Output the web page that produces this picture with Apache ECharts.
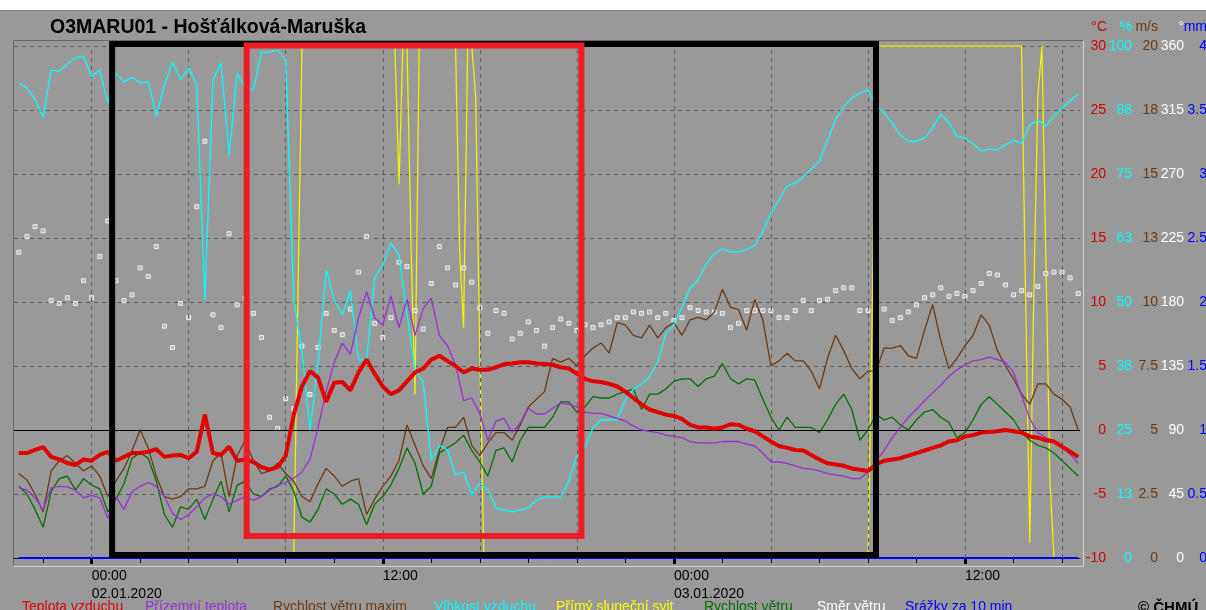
<!DOCTYPE html>
<html><head><meta charset="utf-8">
<script src="https://cdn.jsdelivr.net/npm/echarts@6/dist/echarts.min.js"></script>
<style>html,body{margin:0;padding:0;background:#999999;}#c{width:1206px;height:610px;}</style>
</head><body><div id="c"></div>
<script>
const chartTitle = 'O3MARU01 - Hošťálková-Maruška';
// sampling grid: hours relative to 02.01.2020 00:00, every 20 min from 21:00 01.01.
const START_H = -3, STEP_H = 1 / 3;

// Teplota vzduchu (°C)
const temp = [
 -1.8,-1.8,-1.56,-1.33,-2.1,-2.3,-2.58,-2.73,-2.3,-2.4,
 -1.95,-1.7,-2.4,-2.1,-1.8,-1.8,-1.7,-1.5,-2.1,-2.0,
 -1.95,-2.2,-1.7,1.2,-1.8,-1.95,-1.3,-2.4,-2.3,-2.5,
 -2.9,-3.1,-2.9,-2.0,1.2,3.4,4.6,4.1,2.2,3.7,
 3.75,3.1,4.5,5.5,4.4,3.4,2.8,3.1,3.8,4.5,
 4.8,5.5,5.8,5.4,5.0,4.5,4.8,4.7,4.7,4.9,
 5.15,5.2,5.3,5.3,5.2,5.15,5.1,4.9,4.8,4.4,
 4.0,3.8,3.75,3.6,3.4,3.0,2.5,2.0,1.6,1.4,
 1.2,1.1,0.86,0.4,0.2,0.2,0.1,0.2,0.45,0.4,
 0.1,-0.1,-0.5,-0.9,-1.25,-1.4,-1.56,-1.6,-1.95,-2.3,
 -2.6,-2.7,-2.8,-3.0,-3.1,-3.2,-2.7,-2.4,-2.3,-2.2,
 -2.0,-1.8,-1.6,-1.4,-1.2,-0.9,-0.8,-0.5,-0.4,-0.2,
 -0.15,-0.1,0,-0.1,-0.2,-0.5,-0.6,-0.8,-0.9,-1.3,
 -1.7,-2.1];

// Přízemní teplota (°C)
const ground = [
 -4.5,-4.7,-5.3,-6.25,-4.5,-4.4,-4.45,-4.7,-5.3,-5.1,
 -5.3,-6.9,-5.2,-6.2,-4.8,-4.4,-4.1,-4.4,-5.2,-6.5,
 -7.0,-6.6,-6.0,-5.3,-5.0,-5.2,-5.8,-5.5,-5.2,-5.5,
 -5.2,-4.7,-4.3,-4.1,-3.75,-3.3,-2.3,0.2,3.0,5.3,
 6.8,5.9,8.75,10.8,8.75,8.2,10.5,8.0,10.2,7.4,
 9.5,10.3,7.4,6.6,5.1,2.3,2.5,1.3,-0.8,0.7,
 0.9,-0.2,0.55,1.7,1.25,1.25,1.7,2.1,2.0,1.8,
 1.4,1.3,1.3,1.1,0.9,0.7,0.3,0,-0.1,-0.2,
 -0.4,-0.5,-0.6,-0.9,-1.0,-1.0,-1.0,-0.9,-0.9,-0.9,
 -1.1,-1.25,-1.8,-2.5,-2.5,-2.6,-2.8,-3.0,-3.05,-3.2,
 -3.4,-3.5,-3.6,-3.8,-3.8,-3.3,-2.4,-1.6,-0.6,0.2,
 1.0,1.6,2.3,2.9,3.5,4.2,4.7,5.1,5.4,5.5,
 5.7,5.5,5.3,4.5,2.7,0.9,-0.2,-0.6,-0.9,-1.3,
 -1.9,-2.6];

// Vlhkost vzduchu (%)
const humidity = [
 92.8,91.8,89.6,86.1,95.3,95.1,96.5,97.7,98,94,
 95.3,88.9,94.7,93,93.9,92.8,93,86.3,92.4,96.9,
 93.4,95.7,92.4,50.4,93.4,96.7,78.7,94.7,91.8,91.4,
 98.8,98.8,99.2,97.3,50.4,40.6,25,38,56.25,50.4,
 47.5,52.3,38.7,38.7,54.7,57.2,61.5,59.2,47.5,36.7,
 34.4,19.1,22,21.1,16.2,16.8,12.3,14.6,13.3,9.8,
 9.4,9,9.4,9.8,11.3,11.9,11.9,11.9,15,19.9,
 21.7,25.4,27,27,27,31,33,34,35.4,38.3,
 43.75,45.5,49,52.7,54.3,57.4,59.4,60.4,59.8,59.8,
 60.2,61.1,63.7,67.4,69.9,72.7,73.2,74.4,76,77.5,
 81.6,85.7,88.1,89.8,90.8,91.4,88.3,86.9,85,82.6,
 81.4,81.4,82,84,86.7,85,82.4,82,80.9,79.5,
 79.9,79.7,80.7,81.6,81,84.6,85.5,84.4,86.3,87.9,
 89.3,90.6];

// Rychlost větru maxim (m/s)
const windMax = [
 3.3,3.05,2.5,1.8,3.4,3.8,4.0,3.7,3.4,3.6,
 3.2,2.4,3.0,3.5,4.2,5.0,4.3,3.2,2.4,2.3,
 2.4,2.7,2.7,2.8,3.8,4.1,2.4,4.0,4.6,3.8,
 3.3,3.4,3.7,3.3,3.0,2.4,2.2,2.9,3.5,3.2,
 2.8,3.0,3.1,1.7,2.3,2.8,3.2,3.8,5.2,4.4,
 3.6,3.1,4.2,5.1,5.1,5.5,4.4,4.0,4.5,4.9,
 4.9,4.6,5.2,5.9,6.2,6.5,7.8,7.65,7.8,7.5,
 7.9,8.2,8.4,8.0,9.2,9.1,8.7,8.6,9.1,8.6,
 9.0,9.2,8.7,9.3,9.4,9.3,9.6,10.5,9.8,9.7,
 8.9,10.1,9.3,7.5,7.7,8.0,7.7,7.7,7.3,6.6,
 7.8,8.7,8.1,7.4,7.0,7.3,7.3,8.2,8.2,8.3,
 7.9,7.8,8.9,9.9,8.5,7.4,7.8,8.3,8.7,9.5,
 9.1,8.1,7.5,7.0,6.4,6.0,6.8,6.8,6.4,6.2,
 5.9,5.0];

// Rychlost větru (m/s)
const wind = [
 2.8,2.5,1.9,1.2,2.6,3.1,3.2,2.65,3.1,2.85,
 2.7,1.8,2.3,2.9,3.9,4.1,3.9,3.0,1.7,1.2,
 2.0,1.9,2.3,1.5,2.3,3.0,1.8,2.85,3.0,2.5,
 2.4,2.7,2.8,3.2,2.6,1.6,1.4,1.9,2.7,2.5,
 2.1,2.3,2.1,1.3,2.1,2.4,2.85,3.5,4.3,3.7,
 2.5,2.8,4.1,4.3,4.5,4.8,4.2,3.75,3.2,4.2,
 4.3,3.75,4.6,5.1,5.1,5.1,5.5,6.1,6.1,5.7,
 5.9,6.3,6.25,6.25,6.4,6.5,6.6,5.8,6.4,6.4,
 6.6,6.9,7.0,7.0,6.7,7.0,7.1,7.6,7.0,6.8,
 7.0,6.95,6.2,5.5,5.0,5.5,5.1,5.1,5.1,4.9,
 5.4,6.0,6.4,5.8,4.6,5.0,5.6,5.4,5.5,5.2,
 5.0,5.4,5.7,5.8,5.5,5.3,4.7,4.9,5.4,6.0,
 6.3,6.0,5.7,5.4,4.9,4.6,4.4,4.3,4.1,3.8,
 3.5,3.2];

// Směr větru (°)
const direction = [
 215,226,233,230,181,179,183,179,195,183,
 212,237,195,181,185,204,198,219,163,148,
 179,169,247,293,171,162,228,178,183,172,
 155,99,91,112,105,149,115,148,172,160,
 157,175,201,226,165,155,169,208,205,174,
 161,193,219,204,192,204,194,176,158,174,
 172,154,158,166,160,149,162,168,165,160,
 164,162,164,166,169,169,173,172,173,169,
 172,167,169,176,174,173,173,172,162,165,
 174,174,174,174,169,169,174,181,174,181,
 182,188,190,190,174,174,173,175,167,169,
 173,178,183,185,190,184,186,184,188,193,
 200,199,192,185,188,185,191,200,201,201,
 197,186];

// Srážky za 10 min (mm)
const precip = [
 0,0,0,0,0,0,0,0,0,0, 0,0,0,0,0,0,0,0,0,0, 0,0,0,0,0,0,0,0,0,0,
 0,0,0,0,0,0,0,0,0,0, 0,0,0,0,0,0,0,0,0,0, 0,0,0,0,0,0,0,0,0,0,
 0,0,0,0,0,0,0,0,0,0, 0,0,0,0,0,0,0,0,0,0, 0,0,0,0,0,0,0,0,0,0,
 0,0,0,0,0,0,0,0,0,0, 0,0,0,0,0,0,0,0,0,0, 0,0,0,0,0,0,0,0,0,0,
 0,0,0,0,0,0,0,0,0,0, 0,0];

// Přímý sluneční svit (min per 10 min), irregular readings
const sunHours = [-3, 8.33, 8.5, 8.67, 12.5, 12.67, 12.83, 13.0, 13.17, 13.33, 13.5,
  15.0, 15.17, 15.33, 15.5, 15.67, 15.83, 16.0, 16.17, 32.0, 32.17, 32.33,
  38.33, 38.5, 38.67, 38.83, 39.0, 39.17, 39.33, 39.5, 39.67, 40.67];
const sunVals = [0, 0, 5, 10, 10, 7.3, 10, 10, 6, 3.2, 10,
  10, 6, 4.5, 10, 10, 9, 4, 0, 0, 4.6, 10,
  10, 5, 0.3, 5, 9, 10, 6, 1.5, 0, 0];

// axis ticks / labels (hours)
const xTickHours = [-2,0,2,4,6,8,10,12,14,16,18,20,22,24,26,28,30,32,34,36,38,40];
const xMajorHours = [0,12,24,36];
const xLabelHours = [0,12,24,36];
const xLabelTexts = ['00:00\n02.01.2020','12:00','00:00\n03.01.2020','12:00'];
const vGridHours = [0,4,8,12,16,20,24,28,32,36,40];

// hand-drawn annotation boxes [hourFrom, °C top, hourTo, °C bottom]
const blackBox = [0.845, 30.16, 32.33, -9.77];
const redBox = [6.39, 30.04, 20.19, -8.28];

const legendNames = ['Teplota vzduchu','Přízemní teplota','Rychlost větru maxim','Vlhkost vzduchu',
  'Přímý sluneční svit','Rychlost větru','Směr větru','Srážky za 10 min'];
const unitNames = ['°C','%','m/s','°','mm'];

// ---------------------------------------------------------------
const hours = temp.map((_, i) => START_H + i * STEP_H);
const pair = arr => arr.map((v, i) => [hours[i], v]);
const FONT = '"Liberation Sans", Arial, sans-serif';
const C = {red:'#e00000', purple:'#9b2fd6', brown:'#6b3a12', cyan:'#00ffff', yellow:'#f2f200',
  green:'#007000', white:'#ffffff', blue:'#0000ff'};
const legendColors = [C.red, C.purple, C.brown, C.cyan, '#ffff00', C.green, C.white, C.blue];
const legendX = [22, 145, 273, 434, 556, 704, 817, 905];
const unitColors = ['#d00000', C.cyan, C.brown, C.white, C.blue];
const unitRight = [1107, 1132, 1158, 1184, 1207];

const chart = echarts.init(document.getElementById('c'), null, {renderer: 'canvas'});

function yAx(min, max, interval, color, margin, fmt, extra) {
  return Object.assign({
    type: 'value', position: 'right', min, max, interval,
    axisLine: {show: false}, axisTick: {show: false}, splitLine: {show: false},
    axisLabel: {color, align: 'right', margin, fontSize: 14, fontFamily: FONT, formatter: fmt}
  }, extra || {});
}

const boxSeries = (box, color) => ({
  type: 'custom', xAxisIndex: 0, yAxisIndex: 0, z: 20, clip: false, silent: true,
  data: [box],
  encode: {x: [0, 2], y: [1, 3]},
  renderItem: (params, api) => {
    const p0 = api.coord([api.value(0), api.value(1)]);
    const p1 = api.coord([api.value(2), api.value(3)]);
    return {type: 'rect', shape: {x: p0[0], y: p0[1], width: p1[0] - p0[0], height: p1[1] - p0[1]},
      style: {fill: 'none', stroke: color, lineWidth: 6}};
  }
});

const lineS = (name, data, color, width, yIdx, z) => ({
  name, type: 'line', data, yAxisIndex: yIdx, symbol: 'none', showSymbol: false, z,
  lineStyle: {color, width}, itemStyle: {color}, emphasis: {disabled: true}
});

const graphics = [
  {type: 'rect', shape: {x: 0, y: 0, width: 1206, height: 10}, style: {fill: '#ffffff'}, z: 1},
  {type: 'line', shape: {x1: 0, y1: 10.5, x2: 1206, y2: 10.5}, style: {stroke: '#7a7a7a', lineWidth: 1}},
  {type: 'polyline', shape: {points: [[13.5, 566], [13.5, 40.5], [1083.5, 40.5]]}, style: {stroke: '#6a6a6a', fill: 'none', lineWidth: 1}},
  {type: 'polyline', shape: {points: [[13.5, 566.5], [1083.5, 566.5], [1083.5, 40.5]]}, style: {stroke: '#d4d4d4', fill: 'none', lineWidth: 1}},
  {type: 'text', x: 50, y: 28, style: {text: chartTitle, fill: '#000', font: 'bold 19.5px ' + FONT, textVerticalAlign: 'middle'}},
  {type: 'text', x: 1138, y: 600, style: {text: '© ČHMÚ', fill: '#000', font: 'bold 15px ' + FONT, textVerticalAlign: 'top'}}
];
legendNames.forEach((n, i) => graphics.push({type: 'text', x: legendX[i], y: 600,
  style: {text: n, fill: legendColors[i], font: '14px ' + FONT, textVerticalAlign: 'top'}}));
unitNames.forEach((n, i) => graphics.push({type: 'text', x: unitRight[i], y: 27,
  style: {text: n, fill: unitColors[i], font: '14px ' + FONT, textAlign: 'right', textVerticalAlign: 'middle'}}));

const option = {
  animation: false,
  backgroundColor: '#999999',
  grid: {left: 14, right: 126, top: 46, bottom: 52, outerBoundsMode: 'none', containLabel: false},
  xAxis: [
    {type: 'value', min: -3.2, max: 40.74,
     axisLine: {show: true, onZero: false, lineStyle: {color: '#000', width: 1}},
     axisTick: {show: true, customValues: xTickHours, length: 5, lineStyle: {color: '#000', width: 1}},
     axisLabel: {customValues: xLabelHours, formatter: v => xLabelTexts[xLabelHours.indexOf(v)] || '',
       align: 'left', color: '#000', fontSize: 14, fontFamily: FONT, lineHeight: 18, margin: 9},
     splitLine: {show: false}},
    {type: 'value', min: -3.2, max: 40.74, position: 'bottom',
     axisLine: {show: false, onZero: false},
     axisTick: {show: true, customValues: xMajorHours, length: 6, lineStyle: {color: '#000', width: 3}},
     axisLabel: {show: false}, splitLine: {show: false}}
  ],
  yAxis: [
    yAx(-10, 30, 5, '#d00000', 26, v => String(v),
      {splitLine: {show: true, lineStyle: {color: '#5a5a5a', type: [4, 4], width: 1}}}),
    yAx(0, 100, 12.5, C.cyan, 52, v => String(Math.round(v))),
    yAx(0, 20, 2.5, C.brown, 78, v => v >= 10 ? String(Math.round(v)) : String(v)),
    yAx(0, 360, 45, C.white, 104, v => String(v)),
    yAx(0, 4, 0.5, C.blue, 127, v => String(v)),
    {type: 'value', min: 0, max: 10, show: false}
  ],
  graphic: graphics,
  series: [
    {type: 'line', data: [], xAxisIndex: 0, yAxisIndex: 0, z: 1, silent: true,
     markLine: {silent: true, symbol: ['none', 'none'], label: {show: false}, animation: false,
       lineStyle: {color: '#5a5a5a', type: [4, 4], width: 1},
       data: vGridHours.map(h => ({xAxis: h})).concat([{yAxis: 0, lineStyle: {color: '#000', type: 'solid', width: 1}}])}},
    lineS('Přímý sluneční svit', sunHours.map((h, i) => [h, sunVals[i]]), C.yellow, 1.3, 5, 2),
    lineS('Srážky za 10 min', pair(precip), C.blue, 2, 4, 3),
    {name: 'Směr větru', type: 'scatter', data: pair(direction), yAxisIndex: 3, z: 3,
     symbol: 'rect', symbolSize: 4, itemStyle: {color: '#bdbdbd', borderColor: '#ffffff', borderWidth: 1}},
    lineS('Rychlost větru maxim', pair(windMax), C.brown, 1.3, 2, 4),
    lineS('Rychlost větru', pair(wind), C.green, 1.3, 2, 4),
    lineS('Vlhkost vzduchu', pair(humidity), C.cyan, 1.3, 1, 5),
    lineS('Přízemní teplota', pair(ground), C.purple, 1.3, 0, 6),
    lineS('Teplota vzduchu', pair(temp), C.red, 4, 0, 7),
    boxSeries(blackBox, '#000000'),
    boxSeries(redBox, '#ee1c24')
  ]
};
chart.setOption(option);
</script>
</body></html>
